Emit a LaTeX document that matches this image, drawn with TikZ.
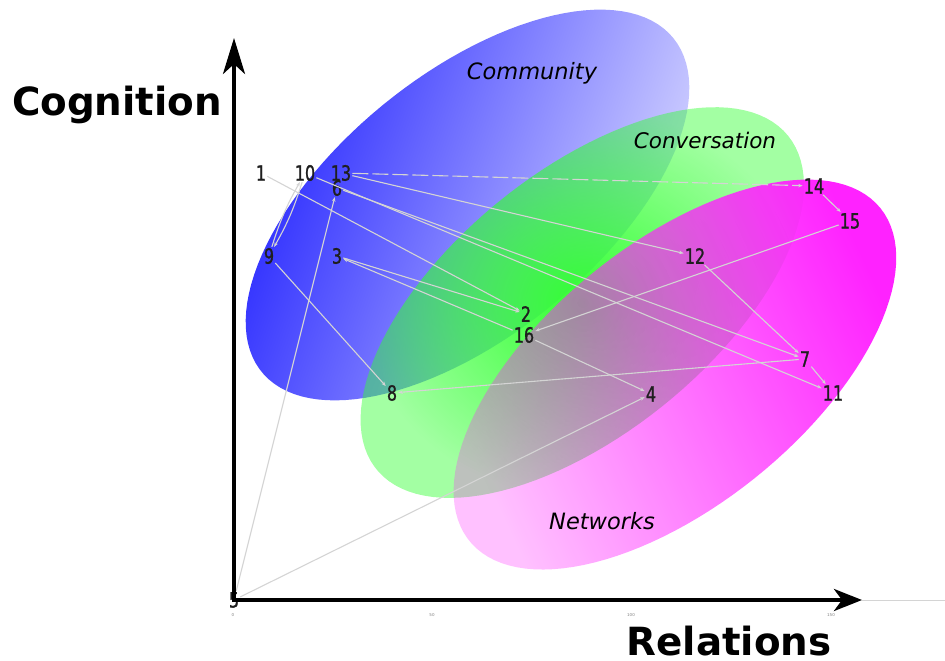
\documentclass[tikz,border=0pt]{standalone}
\usepackage{fontspec}
\setmainfont{DejaVu Sans}
\newfontfamily\numfont[FakeStretch=0.76,FakeBold=1.2]{DejaVu Sans}
\usetikzlibrary{arrows.meta,fadings}
\definecolor{blueL}{RGB}{40,40,255}
\definecolor{blueR}{RGB}{215,215,255}
\definecolor{grn}{RGB}{51,255,51}
\definecolor{mag}{RGB}{255,34,255}
\definecolor{edgec}{RGB}{212,212,212}
\tikzfading[name=greenfade, inner color=transparent!0, outer color=transparent!55]
\tikzfading[name=magfade, left color=transparent!72, middle color=transparent!58, right color=transparent!0]
\begin{document}
\begin{tikzpicture}[x=1pt,y=-1pt,
  num/.style={font=\numfont\fontsize{21}{21}\selectfont, inner sep=1pt, text=black!88},
  edge/.style={draw=edgec, line width=1.1pt, -{Stealth[length=4.5pt,width=3.5pt]}},
  region/.style={font=\itshape\fontsize{22.5}{22.5}\selectfont, anchor=base},
  axislabel/.style={font=\bfseries\fontsize{38.8}{38.8}\selectfont, anchor=base},
  axisline/.style={line width=4pt, black},
  ticklabel/.style={font=\fontsize{4}{4}\selectfont, text=gray, inner sep=0pt}
]
\useasboundingbox (0,0) rectangle (945,661);

% regions
\shade[top color=blueL, bottom color=blueR, shading angle=70]
  plot[domain=0:360, samples=120, variable=\t]
  ({467.5+265*cos(\t)*cos(39)+131*sin(\t)*sin(39)}, {205-265*cos(\t)*sin(39)+131*sin(\t)*cos(39)}) -- cycle;
\fill[grn, path fading=greenfade]
  plot[domain=0:360, samples=120, variable=\t]
  ({582.5+265*cos(\t)*cos(39)+131*sin(\t)*sin(39)}, {302.5-265*cos(\t)*sin(39)+131*sin(\t)*cos(39)}) -- cycle;
\fill[mag, path fading=magfade, fading angle=22]
  plot[domain=0:360, samples=120, variable=\t]
  ({675.5+265*cos(\t)*cos(39)+131*sin(\t)*sin(39)}, {373.5-265*cos(\t)*sin(39)+131*sin(\t)*cos(39)}) -- cycle;

\node[region] (community) at (532,79) {Community};
\node[region, font=\itshape\fontsize{21.5}{21.5}\selectfont] (conversation) at (705,148) {Conversation};
\node[region] (networks) at (602,529) {Networks};

% nodes
\node[num] (n5) at (234,600) {5};
\node[num] (n1) at (261,173) {1};
\node[num] (n10) at (305,173) {10};
\node[num] (n13) at (341,173) {13};
\node[num] (n6) at (337,188) {6};
\node[num] (n9) at (269,256) {9};
\node[num] (n3) at (337,256) {3};
\node[num] (n2) at (526,314) {2};
\node[num] (n16) at (524,335) {16};
\node[num] (n12) at (695,256) {12};
\node[num] (n14) at (814,186) {14};
\node[num] (n15) at (850,221) {15};
\node[num] (n7) at (805,359) {7};
\node[num] (n11) at (833,393) {11};
\node[num] (n8) at (392,393) {8};
\node[num] (n4) at (651,394) {4};

% edges
\draw[edge] (n1) -- (n2);
\draw[edge] (n10) to[bend left=6] (n9);
\draw[edge] (n9) to[bend left=6] (n10);
\draw[edge] (n10) -- (n11);
\draw[edge, dash pattern=on 16pt off 4pt] (n13) -- (n14);
\draw[edge] (n13) -- (n12);
\draw[edge] (n6) -- (n7);
\draw[edge] (n14) -- (n15);
\draw[edge] (n15) -- (n16);
\draw[edge] (n12) -- (n7);
\draw[edge] (n7) -- (n11);
\draw[edge] (n7) -- (n8);
\draw[edge] (n9) -- (n8);
\draw[edge] (n3) -- (n2);
\draw[edge] (n16) -- (n3);
\draw[edge] (n16) -- (n4);
\draw[edge] (n5) -- (n4);
\draw[edge] (n5) -- (n6);

% axes
\coordinate (o) at (234,600);
\coordinate (ytip) at (234,38);
\coordinate (xtip) at (862,600);
\coordinate (xend) at (945,600);
\draw[edgec, line width=1pt] (xtip) -- (xend);
\draw[axisline, -{Stealth[length=36pt,width=22pt,inset=10pt]}] ([yshift=-2pt]o) -- (ytip);
\draw[axisline, -{Stealth[length=28pt,width=22pt,inset=8pt]}] ([xshift=-2pt]o) -- (xtip);

\node[ticklabel] (t0) at (233,615) {0};
\node[ticklabel] (t50) at (432,615) {50};
\node[ticklabel] (t100) at (631,615) {100};
\node[ticklabel] (t150) at (831,615) {150};

\node[axislabel] (cognition) at (117,115) {Cognition};
\node[axislabel] (relations) at (729,655) {Relations};
\end{tikzpicture}
\end{document}
